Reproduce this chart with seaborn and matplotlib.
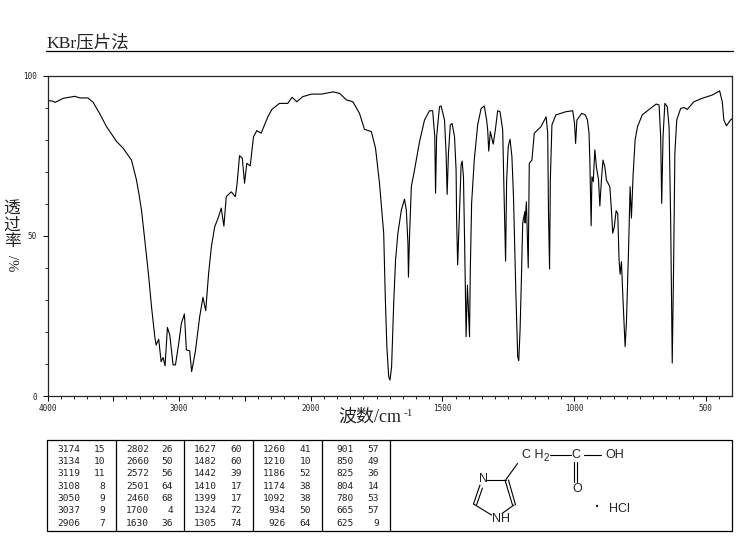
import numpy as np
import pandas as pd
import matplotlib
matplotlib.use("Agg")
import matplotlib.pyplot as plt
import seaborn as sns

wavenumber = [4000, 3960, 3943, 3880, 3792, 3754, 3693, 3653, 3602, 3551, 3475, 3425, 3362, 3324, 3306, 3286,
              3261, 3231, 3210, 3185, 3175, 3155, 3137, 3122, 3107, 3089, 3071, 3046, 3028, 3003, 2983, 2960,
              2945, 2920, 2905, 2877, 2844, 2819, 2798, 2776, 2755, 2730, 2705, 2680, 2660, 2642, 2604, 2573,
              2561, 2541, 2520, 2503, 2486, 2460, 2435, 2410, 2377, 2326, 2296, 2238, 2175, 2142, 2106, 2061,
              1997, 1959, 1915, 1890, 1865, 1840, 1815, 1796, 1770, 1754, 1739, 1723, 1717, 1711, 1704, 1699,
              1693, 1685, 1678, 1669, 1656, 1644, 1637, 1631, 1629, 1625, 1618, 1606, 1587, 1568, 1549, 1537,
              1529, 1526, 1522, 1511, 1505, 1492, 1486, 1482, 1477, 1470, 1463, 1454, 1448, 1446, 1442, 1435,
              1429, 1425, 1420, 1416, 1412, 1410, 1405, 1397, 1394, 1389, 1379, 1366, 1353, 1341, 1332, 1328,
              1324, 1318, 1307, 1299, 1290, 1281, 1271, 1267, 1260, 1256, 1250, 1243, 1236, 1230, 1221, 1214,
              1210, 1205, 1200, 1195, 1187, 1186, 1181, 1174, 1170, 1160, 1151, 1126, 1106, 1100, 1097, 1093,
              1090, 1084, 1069, 1031, 1005, 998, 994, 989, 971, 957, 949, 943, 940, 935, 932, 927,
              921, 915, 907, 902, 896, 890, 883, 877, 864, 858, 853, 847, 840, 834, 829, 825,
              820, 814, 806, 801, 793, 787, 782, 776, 768, 759, 741, 715, 688, 677, 671, 667,
              662, 655, 646, 639, 633, 627, 622, 617, 610, 595, 582, 570, 545, 513, 475, 447,
              437, 431, 421, 406, 400]
transmittance = [92.2, 92.0, 91.6, 92.9, 93.5, 93.0, 93.0, 91.6, 88.0, 84.0, 79.4, 77.3, 73.6, 67.4, 63.2, 58.0,
                 48.7, 37.2, 27.9, 18.5, 15.9, 17.7, 10.7, 12.0, 9.4, 21.4, 19.0, 9.7, 9.7, 16.4, 22.7, 25.6,
                 14.4, 14.1, 7.6, 13.8, 24.7, 30.8, 26.6, 38.3, 46.6, 52.8, 55.4, 58.6, 53.0, 62.2, 63.7, 62.2,
                 65.8, 75.0, 74.2, 66.4, 72.6, 71.8, 80.9, 82.8, 82.0, 87.1, 89.4, 91.3, 91.3, 93.2, 91.8, 93.4,
                 94.2, 94.2, 94.9, 94.4, 92.4, 91.8, 88.2, 83.2, 82.5, 77.3, 66.4, 50.8, 31.0, 15.4, 6.0, 5.0,
                 9.1, 28.9, 42.4, 50.8, 58.0, 61.4, 58.0, 47.7, 37.1, 49.7, 65.3, 70.5, 79.3, 86.1, 89.0, 89.0,
                 80.9, 63.3, 80.9, 90.3, 90.5, 86.1, 75.8, 62.9, 75.8, 84.6, 85.0, 80.9, 70.5, 54.9, 40.9, 58.0,
                 72.1, 73.3, 68.4, 49.7, 29.0, 18.5, 34.6, 18.5, 39.3, 60.2, 73.6, 84.6, 89.7, 90.5, 86.1, 83.0,
                 76.4, 82.5, 78.6, 83.0, 89.0, 88.7, 83.0, 67.4, 42.1, 67.4, 77.8, 80.1, 74.7, 62.2, 32.1, 12.3,
                 11.0, 20.6, 36.2, 54.0, 57.5, 54.0, 60.6, 40.0, 72.6, 73.6, 82.0, 84.0, 87.1, 82.0, 57.0, 39.6,
                 67.4, 84.6, 87.7, 88.7, 89.0, 85.0, 78.8, 86.1, 88.2, 87.7, 86.1, 82.0, 73.6, 53.1, 68.4, 66.9,
                 76.8, 71.5, 67.4, 59.3, 67.4, 73.6, 71.5, 67.4, 65.3, 58.0, 50.8, 52.8, 57.8, 57.0, 42.4, 38.0,
                 41.9, 30.0, 15.4, 22.8, 45.6, 65.3, 55.5, 68.4, 79.9, 84.0, 87.7, 89.4, 91.1, 90.8, 80.9, 60.1,
                 80.9, 91.3, 90.3, 84.0, 54.9, 10.3, 39.3, 75.8, 86.1, 89.7, 90.0, 89.4, 91.8, 92.9, 93.9, 95.2,
                 91.8, 86.1, 84.3, 86.1, 86.5]

x_labeled = [4000, 3000, 2000, 1500, 1000, 500]
y_labeled = [0, 50, 100]

peak_columns = [
    [("3174", "15"), ("3134", "10"), ("3119", "11"), ("3108", "8"), ("3050", "9"), ("3037", "9"), ("2906", "7")],
    [("2802", "26"), ("2660", "50"), ("2572", "56"), ("2501", "64"), ("2460", "68"), ("1700", "4"), ("1630", "36")],
    [("1627", "60"), ("1482", "60"), ("1442", "39"), ("1410", "17"), ("1399", "17"), ("1324", "72"), ("1305", "74")],
    [("1260", "41"), ("1210", "10"), ("1186", "52"), ("1174", "38"), ("1092", "38"), ("934", "50"), ("926", "64")],
    [("901", "57"), ("850", "49"), ("825", "36"), ("804", "14"), ("780", "53"), ("665", "57"), ("625", "9")],
]

W, H = 737, 539
CJK = ["Liberation Serif", "Noto Sans CJK SC", "DejaVu Sans"]
TXT = "#222222"

sns.set_style("ticks")
plt.rcParams["font.family"] = ["DejaVu Sans Mono"]


# the spectrometer chart changes scale at 2000 cm-1
def forward(v):
    v = np.asarray(v, dtype=float)
    return np.where(v <= 2000, v, 2000 + (v - 2000) / 2)


def inverse(v):
    v = np.asarray(v, dtype=float)
    return np.where(v <= 2000, v, 2000 + (v - 2000) * 2)


df = pd.DataFrame({"wn": wavenumber, "t": transmittance})

fig = plt.figure(figsize=(W / 100, H / 100), dpi=100)
ax = fig.add_axes([47.5 / W, 1 - 396 / H, (732 - 47.5) / W, (396 - 75.5) / H])
sns.lineplot(data=df, x="wn", y="t", sort=False, estimator=None, color="black", linewidth=0.8, ax=ax)
ax.set_xscale("function", functions=(forward, inverse))
ax.set_xlim(4000, 400)
ax.set_ylim(0, 100)
ax.set_xlabel("")
ax.set_ylabel("")

major_x = [4000, 3500, 3000, 2500, 2000, 1500, 1000, 500]
minor_x = list(range(4000, 2000, -100)) + list(range(2000, 400, -50))
ax.set_xticks(major_x)
ax.set_xticklabels([str(v) if v in x_labeled else "" for v in major_x])
ax.set_xticks(minor_x, minor=True)
ax.set_yticks(y_labeled)
ax.set_yticks(range(0, 101, 10), minor=True)
ax.tick_params(which="major", length=3.6, width=0.7, labelsize=5.5, color="black", labelcolor=TXT)
ax.tick_params(which="minor", length=2.2, width=0.7)
ax.tick_params(axis="x", which="major", pad=2)
ax.tick_params(axis="y", which="major", pad=4)
for s in ax.spines.values():
    s.set_linewidth(0.9)
    s.set_visible(True)

# overlay in pixel coordinates for heading, table and structure
ov = fig.add_axes([0, 0, 1, 1])
ov.set_xlim(0, W)
ov.set_ylim(H, 0)
ov.axis("off")

ov.text(46, 47.5, "KBr压片法", family=CJK, fontsize=12.6, color=TXT, ha="left", va="baseline")
ov.plot([46, 733], [50.5, 50.5], color="black", lw=0.9)

ov.text(12, 226, "透\n过\n率", family=CJK, fontsize=12, color=TXT, ha="center", va="center", linespacing=1.0)
ov.text(12, 263, "/%", family=CJK, fontsize=10.5, color=TXT, rotation=270, ha="center", va="center")

ov.text(338, 417, "波数/cm", family=CJK, fontsize=13, color=TXT, ha="left", va="center")
ov.text(404, 413, "-1", family=CJK, fontsize=8, color=TXT, ha="left", va="center")

# peak table
ov.plot([47.5, 732, 732, 47.5, 47.5], [439.5, 439.5, 531, 531, 439.5], color="black", lw=0.9)
for xv in [116, 184, 253, 322, 390]:
    ov.plot([xv, xv], [439.5, 531], color="black", lw=0.9)
wn_right = [80, 149, 217, 286, 354]
val_right = [105, 173, 242, 311, 379]
for c, col in enumerate(peak_columns):
    for r, (wn, val) in enumerate(col):
        y = 449.5 + r * 12.25
        ov.text(wn_right[c], y, wn, fontsize=6.8, color=TXT, ha="right", va="center")
        ov.text(val_right[c], y, val, fontsize=6.8, color=TXT, ha="right", va="center")

# structure
bonds = [
    ((550.5, 455), (571.5, 455)), ((584, 455), (601.5, 455)),
    ((574, 462), (574, 482)), ((577, 462), (577, 482)),
    ((517.5, 463.5), (506, 479.5)), ((487, 479.5), (506, 479.5)),
    ((505, 480), (512.5, 505)), ((508.5, 480), (515.5, 505)),
    ((514, 505), (502, 513.5)), ((491.5, 515), (473.5, 504)),
    ((473.5, 504), (480, 485)), ((476.5, 505), (482.5, 488)),
]
for p, q in bonds:
    ov.plot([p[0], q[0]], [p[1], q[1]], color="black", lw=0.8)

sf = dict(family="Liberation Sans", color=TXT, ha="center", va="center")
ov.text(533, 455, "C H", fontsize=9, **sf)
ov.text(546, 458, "2", fontsize=7, **sf)
ov.text(576, 455, "C", fontsize=9, **sf)
ov.text(615, 455, "OH", fontsize=9, **sf)
ov.text(577.5, 489.5, "O", fontsize=9, **sf)
ov.text(483.5, 479.5, "N", fontsize=9, **sf)
ov.text(501.5, 518.5, "NH", fontsize=9, **sf)
ov.text(597, 507, "·", fontsize=10, fontweight="bold", **sf)
ov.text(619, 509, "HCl", fontsize=9, **sf)

fig.savefig("out.png", dpi=100)
